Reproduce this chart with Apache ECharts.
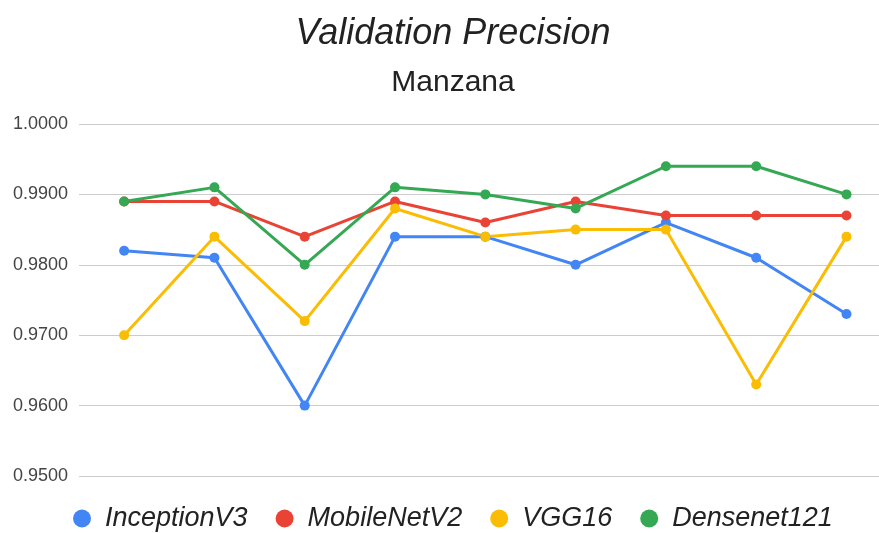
<!DOCTYPE html>
<html>
<head>
<meta charset="utf-8">
<script src="https://cdn.jsdelivr.net/npm/echarts@6/dist/echarts.min.js"></script>
<style>
  html, body { margin: 0; padding: 0; background: #fff; }
  #chart { width: 879px; height: 533px; }
</style>
</head>
<body>
<div id="chart"></div>
<script>
// 9 runs, no x labels shown in the original
var categories = ["1", "2", "3", "4", "5", "6", "7", "8", "9"];
var inceptionV3 = [0.982, 0.981, 0.960, 0.984, 0.984, 0.980, 0.986, 0.981, 0.973];
var mobileNetV2 = [0.989, 0.989, 0.984, 0.989, 0.986, 0.989, 0.987, 0.987, 0.987];
var vgg16 = [0.970, 0.984, 0.972, 0.988, 0.984, 0.985, 0.985, 0.963, 0.984];
var densenet121 = [0.989, 0.991, 0.980, 0.991, 0.990, 0.988, 0.994, 0.994, 0.990];

var chart = echarts.init(document.getElementById("chart"));

function line(name, data, color) {
  return {
    name: name,
    type: "line",
    // x is the category index, so the plot can run past the right edge like the original
    data: data.map(function (v, i) { return [categories.indexOf(categories[i]), v]; }),
    symbol: "circle",
    symbolSize: 10,
    itemStyle: { color: color },
    lineStyle: { width: 3, color: color },
    emphasis: { disabled: true }
  };
}

var option = {
  animation: false,
  title: [
    {
      text: "Validation Precision",
      left: 448,
      textAlign: "center",
      top: 11,
      textStyle: { fontFamily: "Liberation Sans", fontStyle: "italic", fontWeight: "normal", fontSize: 36, color: "#222" }
    },
    {
      text: "Manzana",
      left: 448,
      textAlign: "center",
      top: 63,
      textStyle: { fontFamily: "Liberation Sans", fontWeight: "normal", fontSize: 30, color: "#222" }
    }
  ],
  legend: {
    top: 500,
    left: 68,
    icon: "circle",
    itemWidth: 18,
    itemHeight: 18,
    itemGap: 28,
    textStyle: { fontFamily: "Liberation Sans", fontStyle: "italic", fontSize: 27, color: "#222", padding: [0, 0, 0, 9] },
    data: ["InceptionV3", "MobileNetV2", "VGG16", "Densenet121"]
  },
  grid: { left: 79, right: 0, top: 124, bottom: 57, containLabel: false },
  xAxis: {
    type: "value",
    min: -0.5,
    max: 8.36,
    axisLine: { show: false },
    axisTick: { show: false },
    axisLabel: { show: false },
    splitLine: { show: false }
  },
  yAxis: {
    type: "value",
    min: 0.95,
    max: 1.0,
    interval: 0.01,
    axisLine: { show: false },
    axisTick: { show: false },
    axisLabel: {
      fontFamily: "Liberation Sans",
      fontSize: 18,
      color: "#444",
      margin: 11,
      formatter: function (v) { return v.toFixed(4); }
    },
    splitLine: { lineStyle: { color: "#ccc", width: 1 } }
  },
  series: [
    line("InceptionV3", inceptionV3, "#4285F4"),
    line("MobileNetV2", mobileNetV2, "#EA4335"),
    line("VGG16", vgg16, "#FBBC04"),
    line("Densenet121", densenet121, "#34A853")
  ]
};

chart.setOption(option);
</script>
</body>
</html>
